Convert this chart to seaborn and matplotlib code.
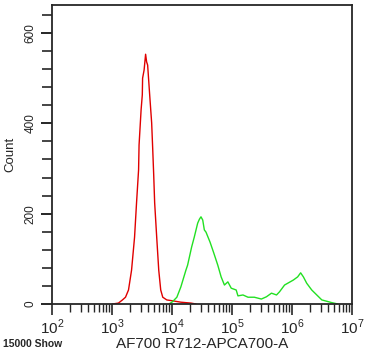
import numpy as np
import pandas as pd
import seaborn as sns
import matplotlib
matplotlib.use("Agg")
import matplotlib.pyplot as plt
from matplotlib.ticker import LogLocator, MultipleLocator, FixedLocator

# values (log10 of intensity, event count)
red_log = [3.007, 3.107, 3.174, 3.225, 3.275, 3.326, 3.376, 3.409, 3.443, 3.451,
           3.485, 3.505, 3.510, 3.535, 3.560, 3.577, 3.594, 3.628, 3.661, 3.678,
           3.695, 3.711, 3.745, 3.779, 3.812, 3.846, 3.913, 4.013, 4.148, 4.315, 4.400]
red_count = [0, 2, 9, 15, 31, 75, 148, 224, 297, 352,
             430, 463, 500, 518, 553, 536, 529, 463, 401, 345,
             286, 224, 148, 75, 31, 15, 9, 7, 4, 2, 0]

green_log = [3.950, 4.008, 4.081, 4.148, 4.232, 4.260, 4.327, 4.371, 4.428, 4.458,
             4.483, 4.512, 4.539, 4.567, 4.634, 4.696, 4.763, 4.819, 4.874, 4.931,
             4.987, 5.070, 5.099, 5.183, 5.267, 5.372, 5.490, 5.574, 5.658, 5.742,
             5.792, 5.876, 6.022, 6.094, 6.144, 6.190, 6.245, 6.329, 6.413, 6.497,
             6.609, 6.664, 6.765]
green_count = [0, 5, 15, 38, 75, 86, 126, 148, 179, 188,
               193, 186, 164, 159, 137, 113, 86, 60, 42, 49,
               35, 31, 18, 20, 15, 15, 11, 16, 24, 20,
               27, 42, 53, 60, 69, 60, 46, 31, 20, 9,
               5, 3, 0]

x_ticks = [1e2, 1e3, 1e4, 1e5, 1e6, 1e7]
x_tick_labels = ["$10^{2}$", "$10^{3}$", "$10^{4}$", "$10^{5}$", "$10^{6}$", "$10^{7}$"]
y_ticks = [0, 200, 400, 600]

red_df = pd.DataFrame({"x": np.power(10.0, red_log), "count": red_count})
green_df = pd.DataFrame({"x": np.power(10.0, green_log), "count": green_count})

sns.set_style("ticks")
plt.rcParams['font.family'] = ['Liberation Sans', 'DejaVu Sans']
plt.rcParams['mathtext.fontset'] = 'custom'
plt.rcParams['mathtext.rm'] = 'Liberation Sans'

fig = plt.figure(figsize=(3.65, 3.55), dpi=100)
ax = fig.add_axes([52 / 365, 51 / 355, 300 / 365, 299 / 355])

sns.lineplot(data=red_df, x="x", y="count", ax=ax, color="#e00000", lw=1.0)
sns.lineplot(data=green_df, x="x", y="count", ax=ax, color="#22e022", lw=1.0)

ax.set_xscale("log")
ax.set_xlim(1e2, 1e7)
ax.set_ylim(0, 662)
ax.set_xticks(x_ticks)
ax.set_xticklabels(x_tick_labels, fontsize=11)
ax.xaxis.set_minor_locator(LogLocator(base=10, subs=np.arange(2, 10)))
ax.yaxis.set_major_locator(FixedLocator(y_ticks))
ax.yaxis.set_minor_locator(MultipleLocator(40))
ax.set_yticklabels([str(v) for v in y_ticks], rotation=90, va="center", fontsize=8.5)

ax.tick_params(axis="x", which="major", length=8, width=1.2, pad=2)
ax.tick_params(axis="x", which="minor", length=6, width=1.0)
ax.tick_params(axis="y", which="major", length=8, width=1.4, pad=3)
ax.tick_params(axis="y", which="minor", length=7, width=1.2)
for s in ax.spines.values():
    s.set_linewidth(1.3)

ax.set_xlabel("AF700 R712-APCA700-A", fontsize=11, labelpad=0)
ax.set_ylabel("Count", fontsize=9.5, labelpad=6)
fig.text(3 / 365, 6 / 355, "15000 Show", fontsize=7.5, fontweight="bold", va="bottom", ha="left")

fig.savefig("out.png", dpi=100)
